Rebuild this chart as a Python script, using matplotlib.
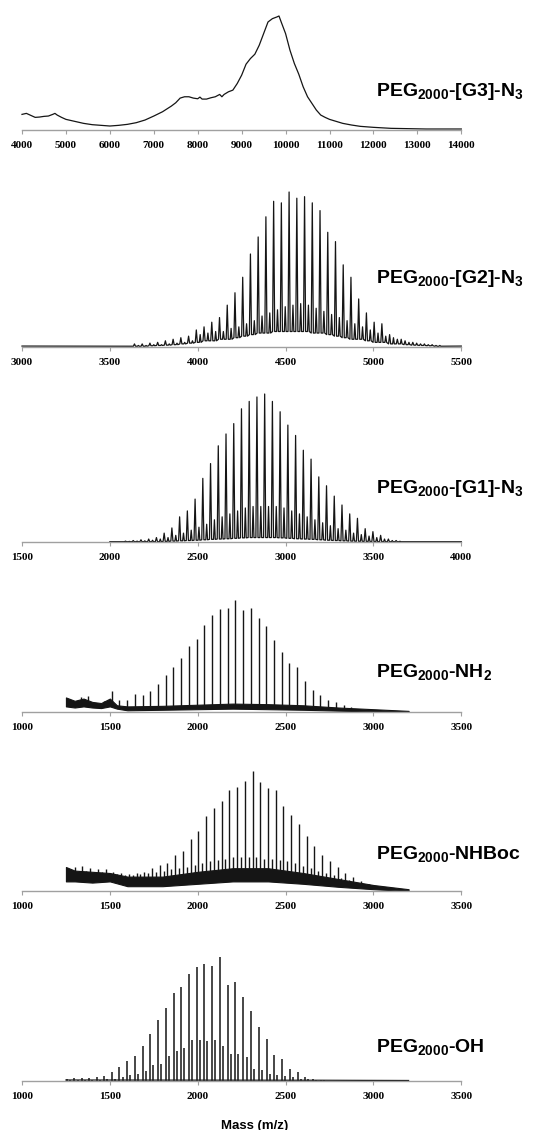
import numpy as np
import matplotlib.pyplot as plt

plt.rcParams['mathtext.fontset'] = 'custom'
plt.rcParams['mathtext.rm'] = 'Liberation Sans:bold'
plt.rcParams['mathtext.it'] = 'Liberation Sans:bold'
plt.rcParams['mathtext.bf'] = 'Liberation Sans:bold'

# ---- PEG2000-[G3]-N3 : broad envelope (m/z, intensity a.u.)
g3_mz = [4000, 4100, 4200, 4300, 4400, 4500, 4600, 4700, 4750, 4800, 4900, 5000, 5200, 5400,
         5600, 5800, 6000, 6200, 6400, 6600, 6800, 7000, 7200, 7400, 7500, 7600, 7700, 7800,
         7900, 8000, 8050, 8100, 8200, 8300, 8400, 8500, 8550, 8600, 8700, 8800, 8900, 9000,
         9100, 9200, 9300, 9400, 9500, 9600, 9700, 9800, 9850, 9900, 10000, 10100, 10200,
         10300, 10400, 10500, 10600, 10700, 10800, 10900, 11000, 11100, 11300, 11500, 11700,
         12000, 12400, 12800, 13200, 13600, 14000]
g3_int = [47, 50, 44, 38, 39, 41, 42, 47, 50, 45, 38, 32, 26, 20, 16, 14, 12, 14, 17, 22, 30,
          42, 55, 72, 82, 96, 100, 100, 96, 94, 99, 93, 93, 97, 100, 107, 100, 107, 115, 120,
          140, 165, 198, 215, 228, 255, 290, 325, 335, 340, 343, 325, 290, 240, 200, 168, 130,
          100, 80, 60, 45, 38, 32, 28, 20, 15, 11, 8, 5, 4, 3, 3, 3]

# ---- PEG2000-[G2]-N3 : main series, satellite series, valley level
g2_pos = [3640, 3684, 3728, 3772, 3816, 3860, 3904, 3948, 3992, 4036, 4080, 4124, 4168, 4212,
          4256, 4300, 4344, 4388, 4432, 4476, 4520, 4564, 4608, 4652, 4696, 4740, 4784, 4828,
          4872, 4916, 4960, 5004, 5048, 5092, 5136, 5180, 5224, 5268, 5312, 5356]
g2_main = [0.02, 0.02, 0.025, 0.03, 0.04, 0.05, 0.06, 0.07, 0.11, 0.13, 0.16, 0.19, 0.27, 0.35,
           0.45, 0.60, 0.71, 0.84, 0.94, 0.93, 1.0, 0.96, 0.97, 0.93, 0.88, 0.74, 0.68, 0.53,
           0.45, 0.31, 0.22, 0.16, 0.15, 0.08, 0.05, 0.04, 0.03, 0.02, 0.015, 0.01]
g2_sub = [0.01, 0.01, 0.015, 0.015, 0.02, 0.025, 0.03, 0.04, 0.08, 0.09, 0.10, 0.10, 0.12, 0.13,
          0.15, 0.17, 0.20, 0.22, 0.24, 0.26, 0.27, 0.28, 0.27, 0.25, 0.23, 0.21, 0.19, 0.17,
          0.15, 0.13, 0.11, 0.09, 0.07, 0.06, 0.05, 0.03, 0.025, 0.02, 0.015, 0.01]
g2_valley = [0.005, 0.005, 0.008, 0.01, 0.012, 0.015, 0.02, 0.025, 0.03, 0.04, 0.04, 0.05, 0.05,
             0.06, 0.07, 0.08, 0.09, 0.09, 0.10, 0.10, 0.10, 0.10, 0.10, 0.09, 0.09, 0.08, 0.07,
             0.06, 0.05, 0.05, 0.04, 0.03, 0.03, 0.02, 0.02, 0.015, 0.012, 0.01, 0.008, 0.005]

# ---- PEG2000-[G1]-N3
g1_pos = [2089, 2133, 2177, 2221, 2265, 2309, 2353, 2397, 2441, 2485, 2529, 2573, 2617, 2661,
          2705, 2749, 2793, 2837, 2881, 2925, 2969, 3013, 3057, 3101, 3145, 3189, 3233, 3277,
          3321, 3365, 3409, 3453, 3497, 3541, 3585, 3629]
g1_main = [0.006, 0.01, 0.015, 0.02, 0.03, 0.06, 0.095, 0.17, 0.21, 0.29, 0.43, 0.53, 0.65,
           0.73, 0.80, 0.90, 0.95, 0.98, 1.0, 0.95, 0.88, 0.79, 0.72, 0.62, 0.56, 0.44, 0.38,
           0.31, 0.25, 0.19, 0.16, 0.09, 0.07, 0.045, 0.02, 0.01]
g1_sub = [0.004, 0.006, 0.008, 0.012, 0.02, 0.03, 0.045, 0.06, 0.08, 0.10, 0.12, 0.15, 0.17,
          0.19, 0.21, 0.23, 0.24, 0.24, 0.24, 0.24, 0.23, 0.21, 0.19, 0.17, 0.15, 0.13, 0.11,
          0.09, 0.08, 0.06, 0.05, 0.04, 0.03, 0.02, 0.01, 0.005]
g1_valley = [0.002, 0.002, 0.002, 0.002, 0.002, 0.004, 0.006, 0.008, 0.01, 0.012, 0.015, 0.018,
             0.02, 0.022, 0.025, 0.028, 0.03, 0.03, 0.03, 0.03, 0.028, 0.025, 0.022, 0.02, 0.018,
             0.015, 0.012, 0.01, 0.008, 0.006, 0.005, 0.004, 0.003, 0.002, 0.002, 0.002]

# ---- PEG2000-NH2 : spikes over a noisy band (band low/high)
nh2_pos = [1290, 1334, 1378, 1422, 1466, 1510, 1554, 1598, 1642, 1686, 1730, 1774, 1818, 1862,
           1906, 1950, 1994, 2038, 2082, 2126, 2170, 2214, 2258, 2302, 2346, 2390, 2434, 2478,
           2522, 2566, 2610, 2654, 2698, 2742, 2786, 2830, 2874, 2918, 2962, 3006]
nh2_main = [0.10, 0.13, 0.14, 0.08, 0.10, 0.19, 0.11, 0.11, 0.16, 0.155, 0.19, 0.25, 0.33, 0.40,
            0.48, 0.59, 0.65, 0.78, 0.87, 0.92, 0.93, 1.0, 0.91, 0.93, 0.84, 0.77, 0.64, 0.54,
            0.44, 0.40, 0.28, 0.20, 0.15, 0.11, 0.09, 0.065, 0.045, 0.03, 0.02, 0.015]
nh2_band_mz = [1250, 1300, 1350, 1400, 1450, 1500, 1540, 1600, 1800, 2000, 2200, 2400, 2600,
               2800, 3000, 3200]
nh2_band_lo = [0.05, 0.04, 0.05, 0.04, 0.035, 0.05, 0.03, 0.015, 0.02, 0.025, 0.03, 0.025, 0.02,
               0.012, 0.005, 0.0]
nh2_band_hi = [0.13, 0.10, 0.12, 0.09, 0.08, 0.12, 0.06, 0.05, 0.055, 0.065, 0.075, 0.07, 0.06,
               0.04, 0.025, 0.01]

# ---- PEG2000-NHBoc
boc_pos = [1300, 1344, 1388, 1432, 1476, 1520, 1564, 1608, 1652, 1696, 1740, 1784, 1828, 1872,
           1916, 1960, 2004, 2048, 2092, 2136, 2180, 2224, 2268, 2312, 2356, 2400, 2444, 2488,
           2532, 2576, 2620, 2664, 2708, 2752, 2796, 2840, 2884, 2928, 2972, 3016]
boc_main = [0.20, 0.21, 0.19, 0.18, 0.18, 0.16, 0.15, 0.14, 0.15, 0.16, 0.19, 0.22, 0.23, 0.30,
            0.33, 0.43, 0.50, 0.625, 0.69, 0.75, 0.84, 0.87, 0.92, 1.0, 0.91, 0.86, 0.84, 0.71,
            0.63, 0.56, 0.46, 0.375, 0.30, 0.25, 0.20, 0.15, 0.12, 0.08, 0.06, 0.045]
boc_sub = [0.17, 0.17, 0.16, 0.16, 0.15, 0.14, 0.13, 0.13, 0.14, 0.15, 0.16, 0.17, 0.18, 0.19,
           0.20, 0.22, 0.23, 0.25, 0.26, 0.27, 0.28, 0.28, 0.28, 0.28, 0.27, 0.27, 0.26, 0.25,
           0.23, 0.21, 0.19, 0.17, 0.15, 0.13, 0.11, 0.09, 0.07, 0.06, 0.05, 0.04]
boc_band_mz = [1250, 1300, 1400, 1500, 1600, 1800, 2000, 2200, 2400, 2600, 2800, 3000, 3200]
boc_band_lo = [0.08, 0.08, 0.07, 0.08, 0.04, 0.04, 0.06, 0.08, 0.08, 0.06, 0.035, 0.015, 0.0]
boc_band_hi = [0.20, 0.17, 0.16, 0.15, 0.12, 0.12, 0.16, 0.19, 0.19, 0.15, 0.10, 0.05, 0.015]

# ---- PEG2000-OH
oh_pos = [1256, 1298, 1340, 1382, 1424, 1467, 1511, 1554, 1598, 1641, 1687, 1730, 1774, 1819,
          1863, 1906, 1950, 1994, 2037, 2083, 2127, 2171, 2214, 2260, 2303, 2349, 2392, 2436,
          2480, 2523, 2569, 2612, 2656, 2701]
oh_main = [0.016, 0.022, 0.027, 0.027, 0.035, 0.043, 0.07, 0.116, 0.16, 0.205, 0.286, 0.38,
           0.49, 0.59, 0.71, 0.755, 0.86, 0.92, 0.946, 0.927, 1.0, 0.776, 0.795, 0.674, 0.566,
           0.437, 0.34, 0.21, 0.178, 0.10, 0.07, 0.035, 0.016, 0.01]
oh_sub = [0.005, 0.008, 0.01, 0.01, 0.012, 0.015, 0.02, 0.03, 0.045, 0.06, 0.08, 0.13, 0.14,
          0.20, 0.24, 0.27, 0.33, 0.33, 0.32, 0.33, 0.28, 0.22, 0.22, 0.19, 0.10, 0.085, 0.06,
          0.05, 0.04, 0.03, 0.02, 0.015, 0.01, 0.008]
oh_base_mz = [1250, 2700, 3200]
oh_base = [0.008, 0.006, 0.004]

labels = [r'PEG$_{2000}$-[G3]-N$_3$', r'PEG$_{2000}$-[G2]-N$_3$', r'PEG$_{2000}$-[G1]-N$_3$',
          r'PEG$_{2000}$-NH$_2$', r'PEG$_{2000}$-NHBoc', r'PEG$_{2000}$-OH']

W, H = 552, 1130
fig = plt.figure(figsize=(W / 100, H / 100), dpi=100)
LINE = '#151515'


def panel(axis_y, top_y, xmin, xmax, step, label, label_base):
    ax = fig.add_axes([22 / W, 1 - axis_y / H, 439.3 / W, (axis_y - top_y) / H])
    ax.set_xlim(xmin, xmax)
    ax.set_ylim(0, 1)
    ax.patch.set_alpha(0)
    for s in ['top', 'right', 'left']:
        ax.spines[s].set_visible(False)
    ax.spines['bottom'].set_color('#a0a0a0')
    ax.spines['bottom'].set_linewidth(1.0)
    ax.set_yticks([])
    ticks = list(range(xmin, xmax + 1, step))
    ax.set_xticks(ticks, labels=[str(t) for t in ticks], fontfamily='Liberation Serif',
                  fontweight='bold', fontsize=8)
    ax.tick_params(axis='x', direction='out', length=3, width=0.8, color='#a0a0a0', pad=5)
    fig.text(376 / W, 1 - label_base / H, label, fontsize=14, fontweight='bold',
             fontfamily='Liberation Sans', va='baseline', ha='left')
    return ax


def zigzag(ax, pos, main, sub, valley, off, x0, x1, base, w=6, w2=5):
    xs, ys = [x0], [base]
    for p, m, s, v in zip(pos, main, sub, valley):
        xs += [p - w, p, p + w, p + off - w2, p + off, p + off + w2]
        ys += [v, m, v, v, s, v]
    xs.append(x1)
    ys.append(base)
    ax.plot(xs, ys, color=LINE, lw=0.9, clip_on=False)


def band_spikes(ax, band_mz, lo, hi, pos, heights, lw=1.0, clip=False):
    # spikes rise out of the middle of the noise band
    mid = (np.array(lo) + np.array(hi)) / 2
    base = np.interp(pos, band_mz, mid)
    ax.vlines(pos, base, heights, color=LINE, lw=lw, clip_on=clip)


# 1) G3
ax1 = panel(130, 16, 4000, 14000, 1000, labels[0], 96)
g3 = np.array(g3_int, dtype=float)
ax1.plot(g3_mz, g3 / g3.max(), color=LINE, lw=0.9, clip_on=False)

# 2) G2
ax2 = panel(347, 192, 3000, 5500, 500, labels[1], 283)
zigzag(ax2, g2_pos, g2_main, g2_sub, g2_valley, 22, 3000, 5500, 0.006)

# 3) G1
ax3 = panel(542, 394, 1500, 4000, 500, labels[2], 493)
zigzag(ax3, g1_pos, g1_main, g1_sub, g1_valley, 22, 2000, 4000, 0.002)

# 4) NH2
ax4 = panel(712, 600, 1000, 3500, 500, labels[3], 677)
ax4.fill_between(nh2_band_mz, nh2_band_lo, nh2_band_hi, color=LINE, lw=0.8)
band_spikes(ax4, nh2_band_mz, nh2_band_lo, nh2_band_hi, nh2_pos, nh2_main)

# 5) NHBoc
ax5 = panel(891, 771, 1000, 3500, 500, labels[4], 859)
ax5.fill_between(boc_band_mz, boc_band_lo, boc_band_hi, color=LINE, lw=0.8)
band_spikes(ax5, boc_band_mz, boc_band_lo, boc_band_hi, np.array(boc_pos) + 22, boc_sub, clip=True)
band_spikes(ax5, boc_band_mz, boc_band_lo, boc_band_hi, boc_pos, boc_main)

# 6) OH
ax6 = panel(1081, 957, 1000, 3500, 500, labels[5], 1052)
ax6.plot(oh_base_mz, oh_base, color=LINE, lw=0.9)
ax6.vlines(np.array(oh_pos) + 18, 0, oh_sub, color=LINE, lw=1.1)
ax6.vlines(oh_pos, 0, oh_main, color=LINE, lw=1.1, clip_on=False)

fig.text(255 / W, 1 - 1129 / H, 'Mass (m/z)', fontsize=9.5, fontweight='bold',
         fontfamily='Liberation Sans', ha='center', va='baseline')

fig.savefig('out.png', dpi=100)
